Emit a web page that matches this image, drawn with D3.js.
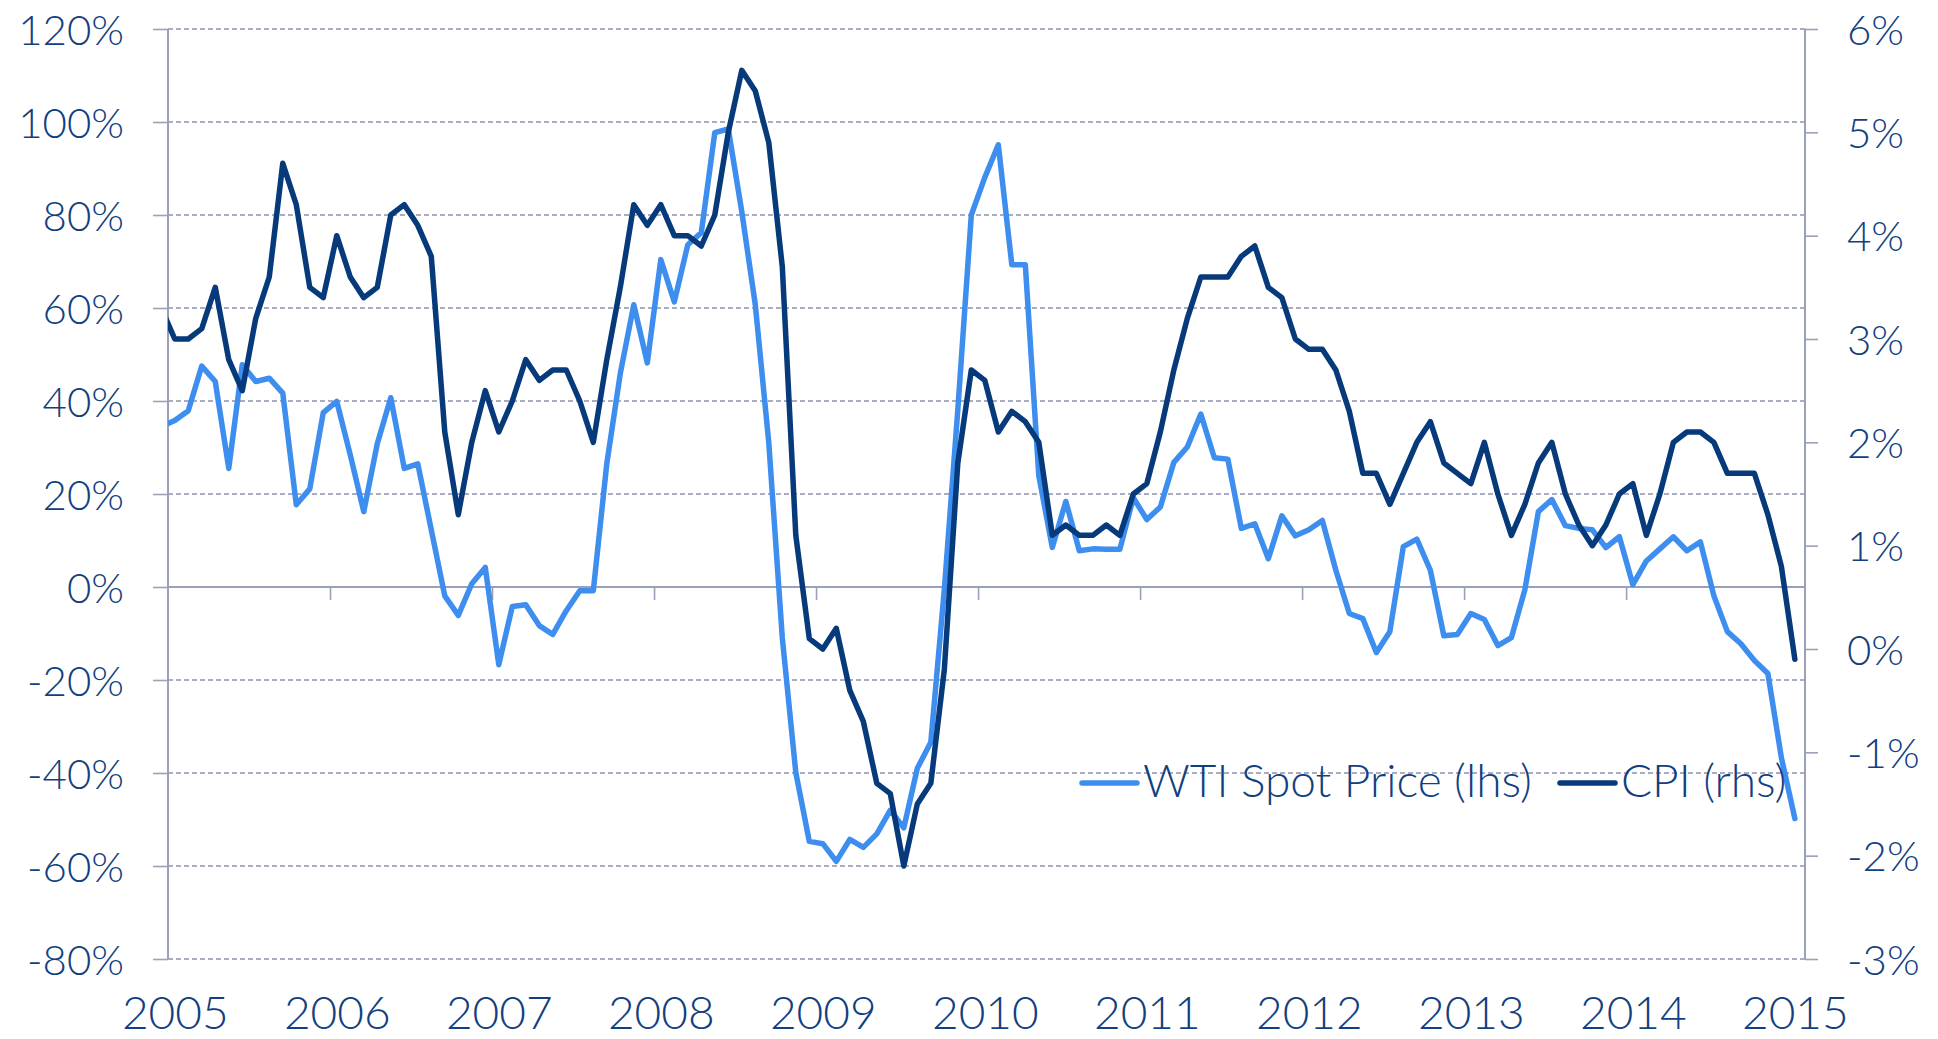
<!DOCTYPE html>
<html>
<head>
<meta charset="utf-8">
<script src="https://cdn.jsdelivr.net/npm/d3@7/dist/d3.min.js"></script>
<style>
  html, body { margin: 0; padding: 0; background: #ffffff; }
  svg { display: block; }
  text { font-family: Lato, "Open Sans", "DejaVu Sans", sans-serif; font-weight: 300; fill: #123f80; }
</style>
</head>
<body>
<svg id="chart" width="1938" height="1039"></svg>
<script>
// ---------------- DATA ----------------
// Monthly observations, Dec 2004 (index -1, clipped by the plot edge) to Jan 2015 (index 120)
const firstMonth = "2004-12";
const yearLabels = ["2005","2006","2007","2008","2009","2010","2011","2012","2013","2014","2015"];
const seriesNames = ["WTI Spot Price (lhs)", "CPI (rhs)"];

// WTI spot price, year-on-year % change (left axis)
const wti = [
  34.5,
  35.8, 37.9, 47.5, 44.2, 25.5, 47.8, 44.2, 44.9, 41.7, 17.7, 21.1, 37.5,
  39.9, 28.4, 16.2, 30.8, 40.7, 25.5, 26.5, 12.3, -1.9, -6.1, 0.7, 4.2,
  -16.7, -4.2, -3.8, -8.3, -10.2, -5.1, -0.8, -0.8, 26.5, 45.9, 60.7, 48.2,
  70.4, 61.3, 73.6, 76.2, 97.7, 98.5, 80.7, 60.7, 31.0, -10.9, -39.9, -54.7,
  -55.2, -59.0, -54.3, -56.0, -53.1, -48.0, -51.8, -39.0, -33.4, -0.6, 38.1, 80.0,
  88.1, 95.1, 69.3, 69.3, 23.9, 8.5, 18.4, 7.8, 8.2, 8.1, 8.1, 19.2,
  14.5, 17.2, 26.8, 30.1, 37.2, 27.8, 27.5, 12.6, 13.6, 6.1, 15.3, 11.0,
  12.3, 14.3, 3.6, -5.7, -6.8, -14.1, -9.6, 8.7, 10.3, 3.6, -10.5, -10.2,
  -5.7, -7.0, -12.6, -10.9, -0.6, 16.2, 18.8, 13.2, 12.6, 12.3, 8.5, 10.8,
  0.5, 5.6, 8.2, 10.8, 7.8, 9.7, -1.9, -9.6, -12.2, -15.8, -18.6, -36.7,
  -49.8
];

// CPI, year-on-year % change (right axis)
const cpi = [
  3.3,
  3.0, 3.0, 3.1, 3.5, 2.8, 2.5, 3.2, 3.6, 4.7, 4.3, 3.5, 3.4,
  4.0, 3.6, 3.4, 3.5, 4.2, 4.3, 4.1, 3.8, 2.1, 1.3, 2.0, 2.5,
  2.1, 2.4, 2.8, 2.6, 2.7, 2.7, 2.4, 2.0, 2.8, 3.5, 4.3, 4.1,
  4.3, 4.0, 4.0, 3.9, 4.2, 5.0, 5.6, 5.4, 4.9, 3.7, 1.1, 0.1,
  0.0, 0.2, -0.4, -0.7, -1.3, -1.4, -2.1, -1.5, -1.3, -0.2, 1.8, 2.7,
  2.6, 2.1, 2.3, 2.2, 2.0, 1.1, 1.2, 1.1, 1.1, 1.2, 1.1, 1.5,
  1.6, 2.1, 2.7, 3.2, 3.6, 3.6, 3.6, 3.8, 3.9, 3.5, 3.4, 3.0,
  2.9, 2.9, 2.7, 2.3, 1.7, 1.7, 1.4, 1.7, 2.0, 2.2, 1.8, 1.7,
  1.6, 2.0, 1.5, 1.1, 1.4, 1.8, 2.0, 1.5, 1.2, 1.0, 1.2, 1.5,
  1.6, 1.1, 1.5, 2.0, 2.1, 2.1, 2.0, 1.7, 1.7, 1.7, 1.3, 0.8,
  -0.1
];

const leftTicks = [-80, -60, -40, -20, 0, 20, 40, 60, 80, 100, 120];
const rightTicks = [-3, -2, -1, 0, 1, 2, 3, 4, 5, 6];

// ---------------- LAYOUT ----------------
const plot = { left: 168, right: 1805, top: 29, bottom: 959 };
const colors = { wti: "#3d8eee", cpi: "#063a7a", grid: "#8e93ad", axis: "#9aa0b8", text: "#123f80" };
const fontStack = 'Lato, "Open Sans", sans-serif';

const svg = d3.select("#chart");

// month index: Dec 2004 = -1, Jan 2005 = 0 ... Jan 2015 = 120
const idx = wti.map((_, i) => i - 1);

const x = d3.scaleLinear().domain([-0.5, 120.75]).range([plot.left, plot.right]);
const yL = d3.scaleLinear().domain([-80, 120]).range([plot.bottom, plot.top]);
const yR = d3.scaleLinear().domain([-3, 6]).range([plot.bottom, plot.top]);

// gridlines (dashed), except the zero line which is the category axis
svg.append("g").selectAll("line")
  .data(leftTicks.filter(d => d !== 0))
  .join("line")
  .attr("x1", plot.left).attr("x2", plot.right)
  .attr("y1", d => yL(d)).attr("y2", d => yL(d))
  .attr("stroke", colors.grid).attr("stroke-width", 1.4)
  .attr("stroke-dasharray", "5,3");

// left axis
const axL = svg.append("g").attr("transform", `translate(${plot.left},0)`)
  .call(d3.axisLeft(yL).tickValues(leftTicks).tickSize(15).tickPadding(29).tickFormat(d => d + "%"));
// right axis
const axR = svg.append("g").attr("transform", `translate(${plot.right},0)`)
  .call(d3.axisRight(yR).tickValues(rightTicks).tickSize(13).tickPadding(29).tickFormat(d => d + "%"));

[axL, axR].forEach(a => {
  a.select(".domain").attr("stroke", colors.axis).attr("stroke-width", 2)
    .attr("d", `M0,${plot.top}V${plot.bottom}`);
  a.selectAll(".tick line").attr("stroke", colors.axis).attr("stroke-width", 1.6);
  a.selectAll(".tick text")
    .attr("fill", colors.text)
    .style("font-family", fontStack)
    .style("font-weight", 300)
    .style("font-size", "42px")
    .attr("dy", "0.36em");
});

// category axis along 0%
const yearTicks = d3.range(1, 10).map(k => 12 * k - 0.5);
const axX = svg.append("g").attr("transform", `translate(0,${yL(0)})`)
  .call(d3.axisBottom(x).tickValues(yearTicks).tickSize(13).tickFormat(""));
axX.select(".domain").attr("d", `M${plot.left},0H${plot.right}`)
  .attr("stroke", colors.axis).attr("stroke-width", 2);
axX.selectAll(".tick line").attr("stroke", colors.axis).attr("stroke-width", 1.6);

// year labels along the bottom
const axYears = svg.append("g").attr("transform", `translate(0,${plot.bottom})`)
  .call(d3.axisBottom(x).tickValues(yearLabels.map((_, k) => 12 * k)).tickSize(0)
    .tickFormat((d, k) => yearLabels[k]));
axYears.select(".domain").remove();
axYears.selectAll(".tick text")
  .attr("y", 70).attr("dy", 0)
  .attr("fill", colors.text)
  .style("font-family", fontStack)
  .style("font-weight", 300)
  .style("font-size", "46px");

// clip to the plot area
svg.append("clipPath").attr("id", "clip")
  .append("rect").attr("x", plot.left).attr("y", 0)
  .attr("width", plot.right - plot.left).attr("height", 1039);

const lineL = d3.line().x((d, i) => x(idx[i])).y(d => yL(d));
const lineR = d3.line().x((d, i) => x(idx[i])).y(d => yR(d));

const lines = svg.append("g").attr("clip-path", "url(#clip)");
lines.append("path").datum(wti).attr("d", lineL)
  .attr("fill", "none").attr("stroke", colors.wti).attr("stroke-width", 5.5)
  .attr("stroke-linejoin", "round").attr("stroke-linecap", "round");
lines.append("path").datum(cpi).attr("d", lineR)
  .attr("fill", "none").attr("stroke", colors.cpi).attr("stroke-width", 5.5)
  .attr("stroke-linejoin", "round").attr("stroke-linecap", "round");

// legend
const legendItems = [
  { name: seriesNames[0], color: colors.wti, x0: 1082 },
  { name: seriesNames[1], color: colors.cpi, x0: 1560 }
];
const lg = svg.append("g");
const legendY = 783;
legendItems.forEach(it => {
  lg.append("line")
    .attr("x1", it.x0).attr("x2", it.x0 + 55)
    .attr("y1", legendY).attr("y2", legendY)
    .attr("stroke", it.color).attr("stroke-width", 5.5).attr("stroke-linecap", "round");
  lg.append("text")
    .attr("x", it.x0 + 61).attr("y", legendY + 14)
    .attr("fill", colors.text)
    .style("font-size", "46px")
    .style("font-weight", 300)
    .text(it.name);
});
</script>
</body>
</html>
